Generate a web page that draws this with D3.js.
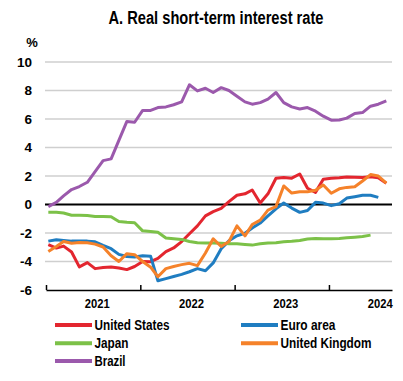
<!DOCTYPE html>
<html>
<head>
<meta charset="utf-8">
<script src="https://cdn.jsdelivr.net/npm/d3@7"></script>
<style>
  html, body { margin: 0; padding: 0; background: #fff; }
  svg { display: block; }
  text { font-family: 'Liberation Sans Narrow', 'Arial Narrow', 'Liberation Sans', Arial, sans-serif; font-weight: bold; fill: #000; }
</style>
</head>
<body>
<svg id="chart" width="403" height="381"></svg>
<script>
// ---- Data (monthly, Jan 2021 .. Aug 2024) ----
const monthCount = 44;
const months = d3.range(monthCount).map(i => d3.timeMonth.offset(new Date(2021, 0, 1), i));

const unitedStates = [-2.82,-3.06,-2.92,-3.33,-4.38,-4.08,-4.50,-4.42,-4.38,-4.45,-4.57,-4.35,
  -4.00,-4.01,-3.78,-3.31,-3.05,-2.60,-2.05,-1.50,-0.80,-0.50,-0.27,0.20,
  0.65,0.75,1.02,0.10,0.75,1.84,1.90,1.85,2.14,1.14,0.85,1.77,
  1.84,1.87,1.93,1.92,1.90,1.95,1.88,1.49];
const euroArea = [-2.57,-2.47,-2.52,-2.57,-2.57,-2.57,-2.62,-2.87,-3.10,-3.50,-3.65,-3.68,
  -3.60,-3.64,-5.35,-5.20,-5.05,-4.90,-4.72,-4.50,-4.65,-4.10,-3.10,-2.55,
  -2.20,-2.02,-1.65,-1.30,-0.80,-0.30,0.10,-0.25,-0.55,-0.42,0.15,0.10,
  -0.08,0.05,0.45,0.55,0.65,0.65,0.50,null];
const japan = [-0.55,-0.55,-0.60,-0.75,-0.75,-0.77,-0.84,-0.84,-0.86,-1.20,-1.25,-1.28,
  -1.85,-1.90,-1.95,-2.35,-2.40,-2.45,-2.60,-2.68,-2.70,-2.70,-2.72,-2.75,
  -2.75,-2.80,-2.85,-2.75,-2.70,-2.68,-2.62,-2.58,-2.52,-2.42,-2.38,-2.40,
  -2.40,-2.38,-2.34,-2.30,-2.25,-2.15,null,null];
const unitedKingdom = [-3.30,-2.95,-2.60,-2.72,-2.66,-2.68,-2.78,-2.98,-3.60,-4.00,-3.45,-3.52,
  -4.00,-4.40,-5.07,-4.50,-4.35,-4.22,-4.13,-4.29,-3.40,-2.40,-2.95,-2.60,
  -1.50,-2.20,-1.40,-1.10,-0.39,-0.15,1.30,0.80,0.90,0.90,1.00,1.37,
  0.79,1.10,1.20,1.25,1.65,2.10,2.00,1.50];
const brazil = [-0.15,0.15,0.60,1.05,1.26,1.56,2.30,3.08,3.20,4.50,5.83,5.77,
  6.60,6.60,6.80,6.85,7.00,7.20,8.40,7.97,8.16,7.86,8.20,8.00,
  7.60,7.20,7.04,7.15,7.40,7.86,7.15,6.85,6.70,6.80,6.55,6.20,
  5.92,5.93,6.06,6.39,6.45,6.90,7.04,7.27];

const seriesNames = ["United States", "Euro area", "Japan", "United Kingdom", "Brazil"];
const seriesColors = ["#E3262F", "#1F7DC1", "#7CC148", "#F5822A", "#9B59AC"];
const seriesValues = [unitedStates, euroArea, japan, unitedKingdom, brazil];

const yTicks = [10, 8, 6, 4, 2, 0, -2, -4, -6];
const yearLabels = ["2021", "2022", "2023", "2024"];
const titleText = "A. Real short-term interest rate";
const unitText = "%";

// ---- Layout ----
const svg = d3.select("#chart");
const plotLeft = 46, plotRight = 392;
const x = d3.scaleTime()
  .domain([new Date(2021, 0, 1), new Date(2024, 8, 1)])
  .range([plotLeft, plotRight]);
const y = d3.scaleLinear().domain([-6, 10]).range([290, 62]);
const xPos = d => x(d3.timeDay.offset(d, 9));

// Title
svg.append("text")
  .attr("x", 216).attr("y", 23.5)
  .attr("text-anchor", "middle")
  .attr("font-size", 18)
  .attr("textLength", 215).attr("lengthAdjust", "spacingAndGlyphs")
  .text(titleText);

// Unit
svg.append("text")
  .attr("x", 32).attr("y", 47)
  .attr("text-anchor", "middle")
  .attr("font-size", 13)
  .text(unitText);

// Gridlines
svg.append("g").selectAll("line")
  .data(yTicks.filter(v => v !== 0 && v !== -6))
  .join("line")
  .attr("x1", plotLeft - 1).attr("x2", plotRight)
  .attr("y1", d => y(d)).attr("y2", d => y(d))
  .attr("stroke", "#cfcfcf").attr("stroke-width", 1.5);

// Y labels
svg.append("g").selectAll("text")
  .data(yTicks)
  .join("text")
  .attr("x", 32).attr("y", d => y(d))
  .attr("dy", "0.36em")
  .attr("text-anchor", "end")
  .attr("font-size", 13.5)
  .text(d => d);

// Zero line
svg.append("line")
  .attr("x1", plotLeft - 1).attr("x2", plotRight)
  .attr("y1", y(0)).attr("y2", y(0))
  .attr("stroke", "#000").attr("stroke-width", 2);

// X axis
const xAxis = d3.axisBottom(x)
  .tickValues([new Date(2021, 0, 1), new Date(2022, 0, 1), new Date(2023, 0, 1), new Date(2024, 0, 1)])
  .tickSize(-5)
  .tickSizeOuter(0)
  .tickFormat("");
const gx = svg.append("g").attr("transform", `translate(0,${y(-6)})`).call(xAxis);
gx.select(".domain").attr("stroke", "#000").attr("stroke-width", 1.5);
gx.selectAll(".tick line").attr("stroke", "#000").attr("stroke-width", 1.5);

svg.append("g").selectAll("text")
  .data(yearLabels)
  .join("text")
  .attr("x", d => {
    const a = x(new Date(+d, 0, 1)), b = x(new Date(+d + 1, 0, 1));
    return (a + b) / 2 + 4;
  })
  .attr("y", y(-6) + 13)
  .attr("dy", "0.36em")
  .attr("text-anchor", "middle")
  .attr("font-size", 13.5)
  .attr("textLength", 25).attr("lengthAdjust", "spacingAndGlyphs")
  .text(d => d);

// Series lines
const line = d3.line()
  .defined(d => d.v !== null)
  .x(d => xPos(d.m))
  .y(d => y(d.v));

seriesValues.forEach((vals, k) => {
  svg.append("path")
    .datum(vals.map((v, i) => ({ m: months[i], v })))
    .attr("fill", "none")
    .attr("stroke", seriesColors[k])
    .attr("stroke-width", 3)
    .attr("stroke-linejoin", "round")
    .attr("d", line);
});

// Legend
const legendPos = [
  { x: 55, y: 325, w: 75 }, { x: 241, y: 325, w: 55 },
  { x: 55, y: 343.3, w: 34 }, { x: 241, y: 343.3, w: 91 },
  { x: 55, y: 361, w: 31 }
];
const lg = svg.append("g").selectAll("g")
  .data(seriesNames)
  .join("g")
  .attr("transform", (d, i) => `translate(${legendPos[i].x},${legendPos[i].y})`);
lg.append("line")
  .attr("x1", 0).attr("x2", 37)
  .attr("stroke", (d, i) => seriesColors[i])
  .attr("stroke-width", 4);
lg.append("text")
  .attr("x", 39.5).attr("dy", "0.36em")
  .attr("font-size", 14)
  .attr("textLength", (d, i) => legendPos[i].w).attr("lengthAdjust", "spacingAndGlyphs")
  .text(d => d);
</script>
</body>
</html>
